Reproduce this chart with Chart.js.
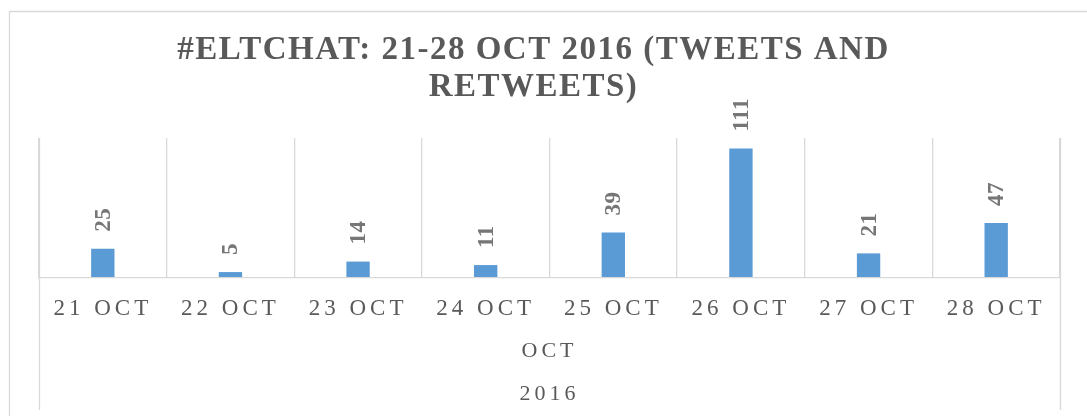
<!DOCTYPE html>
<html>
<head>
<meta charset="utf-8">
<script src="https://cdn.jsdelivr.net/npm/chart.js@4.4.0/dist/chart.umd.min.js"></script>
<style>
  html, body { margin: 0; padding: 0; background: #ffffff; }
  #wrap { width: 1087px; height: 416px; position: relative; }
</style>
</head>
<body>
<div id="wrap"><canvas id="c" width="1087" height="416"></canvas></div>
<script>
const categories = ['21 OCT', '22 OCT', '23 OCT', '24 OCT', '25 OCT', '26 OCT', '27 OCT', '28 OCT'];
const tweets = [25, 5, 14, 11, 39, 111, 21, 47];
const titleLines = ['#ELTCHAT: 21-28 OCT 2016 (TWEETS AND', 'RETWEETS)'];
const groupLabels = ['OCT', '2016'];

const TEXT = '#595959';
const GRID = '#d9d9d9';
const SERIF = "'Liberation Serif', 'Times New Roman', serif";

const framePlugin = {
  id: 'frame',
  beforeDraw(chart) {
    chart.ctx.letterSpacing = '1.5px';
  },
  beforeDatasetsDraw(chart) {
    chart.ctx.letterSpacing = '4px';
  },
  afterDatasetsDraw(chart) {
    const ctx = chart.ctx;
    const meta = chart.getDatasetMeta(0);
    const data = chart.data.datasets[0].data;
    ctx.save();
    ctx.letterSpacing = '0.5px';
    ctx.fillStyle = '#767676';
    ctx.font = "bold 23px " + SERIF;
    ctx.textAlign = 'left';
    ctx.textBaseline = 'middle';
    meta.data.forEach((bar, i) => {
      ctx.save();
      ctx.translate(bar.x + 1, bar.y - 17);
      ctx.rotate(-Math.PI / 2);
      ctx.fillText(String(data[i]), 0, 0);
      ctx.restore();
    });
    ctx.restore();
  },
  afterDraw(chart) {
    const ctx = chart.ctx;
    const a = chart.chartArea;
    ctx.save();
    ctx.letterSpacing = '0px';
    ctx.strokeStyle = GRID;
    ctx.lineWidth = 1.3;
    ctx.beginPath();
    ctx.moveTo(9.5, 1000);
    ctx.lineTo(9.5, 11.5);
    ctx.lineTo(1200, 11.5);
    ctx.stroke();
    ctx.beginPath();
    ctx.moveTo(Math.round(a.left) + 0.5, a.top);
    ctx.lineTo(Math.round(a.left) + 0.5, 410);
    ctx.moveTo(Math.round(a.right) + 0.5, a.top);
    ctx.lineTo(Math.round(a.right) + 0.5, 410);
    ctx.stroke();
    ctx.restore();
    ctx.letterSpacing = '0px';
  }
};

new Chart(document.getElementById('c'), {
  type: 'bar',
  data: {
    labels: categories,
    datasets: [{
      data: tweets,
      backgroundColor: '#5B9BD5',
      borderWidth: 0,
      categoryPercentage: 1,
      barPercentage: 0.183
    }]
  },
  plugins: [framePlugin],
  options: {
    responsive: false,
    animation: false,
    devicePixelRatio: 1,
    layout: { padding: { left: 7, right: 27, top: 31, bottom: 0 } },
    plugins: {
      legend: { display: false },
      tooltip: { enabled: false },
      title: {
        display: true,
        text: titleLines,
        color: TEXT,
        font: { family: SERIF, size: 33, weight: 'bold', lineHeight: 1.15 },
        padding: { top: 0, bottom: 31 }
      }
    },
    scales: {
      x: {
        grid: {
          display: true,
          offset: true,
          color: GRID,
          lineWidth: 1.3,
          drawTicks: true,
          tickLength: 9,
          tickColor: 'rgba(0,0,0,0)',
          z: 1
        },
        border: { display: true, color: GRID, width: 1.3, z: 1 },
        ticks: {
          color: TEXT,
          font: { family: SERIF, size: 23, lineHeight: 1.1 },
          padding: 9,
          autoSkip: false,
          maxRotation: 0,
          minRotation: 0,
          z: 1
        },
        title: {
          display: true,
          text: groupLabels,
          color: TEXT,
          font: { family: SERIF, size: 22, lineHeight: 1.95 },
          padding: { top: 0, bottom: 0 }
        }
      },
      y: {
        display: true,
        min: 0,
        max: 120,
        grid: { display: false },
        border: { display: false },
        ticks: { display: false },
        afterFit(scale) { scale.width = 32; }
      }
    }
  }
});
</script>
</body>
</html>
